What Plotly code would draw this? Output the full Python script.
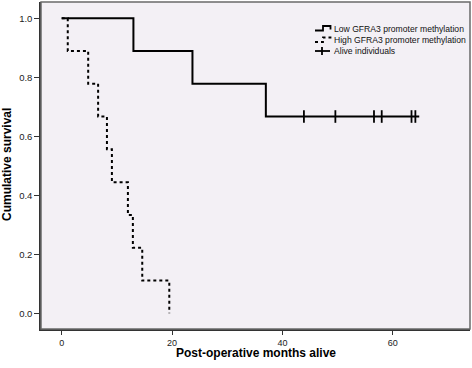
import plotly.graph_objects as go

# Kaplan-Meier step data
low_times = [0, 13.0, 23.7, 37.0, 64.8]
low_surv = [1.0, 0.889, 0.778, 0.667, 0.667]

high_times = [0, 1.1, 4.8, 6.6, 8.2, 9.1, 12.0, 12.9, 14.6, 19.5]
high_surv = [1.0, 0.889, 0.778, 0.667, 0.556, 0.444, 0.333, 0.222, 0.111, 0.0]

censor_times = [43.9, 49.6, 56.6, 58.0, 63.4, 64.1]
censor_surv = [0.667] * len(censor_times)

x_ticks = [0, 20, 40, 60]
y_ticks = [0.0, 0.2, 0.4, 0.6, 0.8, 1.0]

legend_labels = ["Low GFRA3 promoter methylation",
                 "High GFRA3 promoter methylation",
                 "Alive individuals"]

W, H = 472, 368
L, R, T, B = 41, 2, 2, 39
pw, ph = W - L - R, H - T - B


def px(x):
    return (x - L) / pw


def py(y):
    return (H - B - y) / ph


fig = go.Figure()
fig.add_trace(go.Scatter(x=low_times, y=low_surv, mode="lines", line_shape="hv",
                         line=dict(color="black", width=2), showlegend=False))
fig.add_trace(go.Scatter(x=high_times, y=high_surv, mode="lines", line_shape="hv",
                         line=dict(color="black", width=2, dash="dot"), showlegend=False))
fig.add_trace(go.Scatter(x=censor_times, y=censor_surv, mode="markers",
                         marker=dict(symbol="line-ns", size=9,
                                     line=dict(color="black", width=1.8)),
                         showlegend=False))

font = "Arial, Liberation Sans, sans-serif"

# legend (drawn manually to mimic step icons)
rows_y = [28.5, 40.0, 51.0]
ix0 = 315
shapes = []
for i, dash in enumerate(["solid", "dot"]):
    ry = rows_y[i]
    shapes.append(dict(type="path", xref="paper", yref="paper",
                       path=f"M {px(ix0)},{py(ry+2)} L {px(ix0+8)},{py(ry+2)} "
                            f"L {px(ix0+8)},{py(ry-2.5)} L {px(ix0+15.5)},{py(ry-2.5)} "
                            f"L {px(ix0+15.5)},{py(ry+1)}",
                       line=dict(color="black", width=1.8, dash=dash)))
# alive icon
shapes.append(dict(type="line", xref="paper", yref="paper",
                   x0=px(ix0), x1=px(ix0+15), y0=py(rows_y[2]), y1=py(rows_y[2]),
                   line=dict(color="black", width=1.8)))
shapes.append(dict(type="line", xref="paper", yref="paper",
                   x0=px(ix0+7), x1=px(ix0+7), y0=py(rows_y[2]-4), y1=py(rows_y[2]+4),
                   line=dict(color="black", width=1.8)))
# frame (top/right)
shapes.append(dict(type="rect", xref="paper", yref="paper", x0=0, x1=1, y0=0, y1=1,
                   line=dict(color="#6a6a6a", width=1.5), layer="above"))

annotations = []
for lab, ry in zip(legend_labels, rows_y):
    annotations.append(dict(text=lab, xref="paper", yref="paper",
                            x=px(ix0 + 17), y=py(ry), xanchor="left", yanchor="middle",
                            showarrow=False, font=dict(family=font, size=8.6, color="#111")))
annotations.append(dict(text="<b>Cumulative survival</b>", xref="paper", yref="paper",
                        x=px(7), y=py(165), xanchor="center", yanchor="middle",
                        textangle=-90, showarrow=False,
                        font=dict(family=font, size=12, color="black")))
annotations.append(dict(text="<b>Post-operative months alive</b>", xref="paper", yref="paper",
                        x=px(255.5), y=py(353), xanchor="center", yanchor="middle",
                        showarrow=False, font=dict(family=font, size=12, color="black")))

fig.update_layout(
    width=W, height=H,
    margin=dict(l=L, r=R, t=T, b=B, pad=0),
    paper_bgcolor="white",
    plot_bgcolor="#F3F0F5",
    shapes=shapes,
    annotations=annotations,
    showlegend=False,
)
fig.update_xaxes(range=[-3.75, 74.0], tickvals=x_ticks, ticktext=[str(v) for v in x_ticks],
                 showgrid=False, zeroline=False, ticks="outside", ticklen=4, tickwidth=1,
                 tickcolor="#333", showline=True, linecolor="#333", linewidth=1.5,
                 tickfont=dict(family=font, size=9, color="#222"))
fig.update_yaxes(range=[-0.053, 1.055], tickvals=y_ticks, ticktext=[f"{v:.1f}" for v in y_ticks],
                 showgrid=False, zeroline=False, ticks="outside", ticklen=5, tickwidth=1,
                 tickcolor="#333", showline=True, linecolor="#333", linewidth=1.5,
                 tickfont=dict(family=font, size=9.5, color="#222"))

fig.write_html("out.html", config={"displayModeBar": False},
               post_script="document.body.style.margin='0px';")
